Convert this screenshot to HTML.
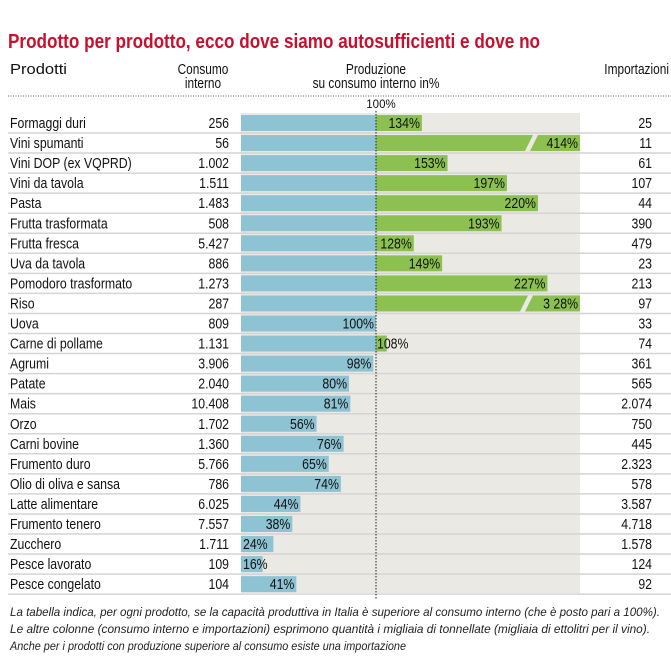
<!DOCTYPE html>
<html><head><meta charset="utf-8"><style>
body{margin:0;background:#fff;width:671px;height:670px;overflow:hidden}
svg{display:block;font-family:"Liberation Sans Narrow","Liberation Sans",sans-serif}
</style></head><body>
<svg id="c" width="671" height="670">
<text x="8" y="48" font-size="20" font-weight="bold" fill="#c8102e" textLength="532" lengthAdjust="spacingAndGlyphs">Prodotto per prodotto, ecco dove siamo autosufficienti e dove no</text>
<g font-size="14.5" fill="#111">
<text x="10" y="74" textLength="57" lengthAdjust="spacingAndGlyphs">Prodotti</text>
<text x="203" y="74" text-anchor="middle" transform="translate(203,74) scale(0.82,1) translate(-203,-74)">Consumo</text>
<text x="203" y="88" text-anchor="middle" transform="translate(203,88) scale(0.82,1) translate(-203,-88)">interno</text>
<text x="376" y="74" text-anchor="middle" transform="translate(376,74) scale(0.82,1) translate(-376,-74)">Produzione</text>
<text x="376" y="88" text-anchor="middle" transform="translate(376,88) scale(0.82,1) translate(-376,-88)">su consumo interno in%</text>
<text x="669" y="74" text-anchor="end" transform="translate(669,74) scale(0.82,1) translate(-669,-74)">Importazioni</text>
</g>
<line x1="8" y1="96" x2="671" y2="96" stroke="#555" stroke-dasharray="1,1.5"/>
<text x="381" y="108" font-size="11.5" text-anchor="middle" fill="#111">100%</text>
<rect x="241" y="113" width="339" height="480" fill="#ebe9e4"/>
<g id="rows"></g>
<line x1="376" y1="111" x2="376" y2="600" stroke="#222" stroke-dasharray="1.5,1.5"/>
<g font-size="12" font-style="italic" fill="#222">
<text x="10" y="616" textLength="650" lengthAdjust="spacingAndGlyphs">La tabella indica, per ogni prodotto, se la capacità produttiva in Italia è superiore al consumo interno (che è posto pari a 100%).</text>
<text x="10" y="633" textLength="640" lengthAdjust="spacingAndGlyphs">Le altre colonne (consumo interno e importazioni) esprimono quantità i migliaia di tonnellate (migliaia di ettolitri per il vino).</text>
<text x="10" y="650" textLength="396" lengthAdjust="spacingAndGlyphs">Anche per i prodotti con produzione superiore al consumo esiste una importazione</text>
</g>
</svg>
<script>
const products=["Formaggi duri","Vini spumanti","Vini DOP  (ex VQPRD)","Vini da tavola","Pasta","Frutta trasformata","Frutta fresca","Uva da tavola","Pomodoro trasformato","Riso","Uova","Carne di pollame","Agrumi","Patate","Mais","Orzo","Carni bovine","Frumento duro","Olio di oliva e sansa","Latte alimentare","Frumento tenero","Zucchero","Pesce lavorato","Pesce congelato"];
const consumo=["256","56","1.002","1.511","1.483","508","5.427","886","1.273","287","809","1.131","3.906","2.040","10.408","1.702","1.360","5.766","786","6.025","7.557","1.711","109","104"];
const produzione=[134,414,153,197,220,193,128,149,227,328,100,108,98,80,81,56,76,65,74,44,38,24,16,41];
const importazioni=["25","11","61","107","44","390","479","23","213","97","33","74","361","565","2.074","750","445","2.323","578","3.587","4.718","1.578","124","92"];
const NS="http://www.w3.org/2000/svg";
const x0=241,x100=376,xMax=580;
const SX=0.82;
function xs(v){return Math.min(x0+(x100-x0)*v/100,xMax);}
function ys(i){return 123+i*20.05;}
const g=document.getElementById('rows');
function mk(tag,attrs,txt){const e=document.createElementNS(NS,tag);for(const k in attrs)e.setAttribute(k,attrs[k]);if(txt!==undefined)e.textContent=txt;g.appendChild(e);return e;}
function txt(x,y,s,size,anchor){return mk('text',{x:0,y:0,'font-size':size,fill:'#111','text-anchor':anchor,transform:`translate(${x},${y}) scale(${SX},1)`},s);}
products.forEach((p,i)=>{
 const y=ys(i),v=produzione[i];
 const sep=mk('line',{x1:8,x2:671,y1:y+10,y2:y+10,stroke:'#d4d4d4','stroke-width':1.5});
 
 
 const nm=txt(10,y+5,p,15,'start');
 
 
 const c=txt(229,y+5,consumo[i],15,'end');
 
 
 const blueEnd=xs(Math.min(v,100));
 const b=mk('rect',{x:x0,y:y-8,width:blueEnd-x0,height:16,fill:'#8ec3d3'});
 
 
 if(v>100){
  const e=xs(v);
  const gb=mk('rect',{x:x100,y:y-8,width:e-x100,height:16,fill:'#8cc152'});
  
  
  if(v>230){
   const bx=xs(v)-(v>400?55:60);
   const br=mk('polygon',{points:`${bx},${y+8} ${bx+8},${y-8} ${bx+13},${y-8} ${bx+5},${y+8}`,fill:'#ebe9e4'});
   
   
  }
 }
 let lx=xs(v)-2,anc='end';
 if(v<30){lx=x0+2;anc='start';}
 if(v>100&&v<112){lx=x100+1;anc='start';}
 const t=txt(lx,y+5,(v===328?'3 28':v)+'%',15,anc);
 
 
 const im=txt(652,y+5,importazioni[i],15,'end');
 
 
});
</script>
</body></html>
